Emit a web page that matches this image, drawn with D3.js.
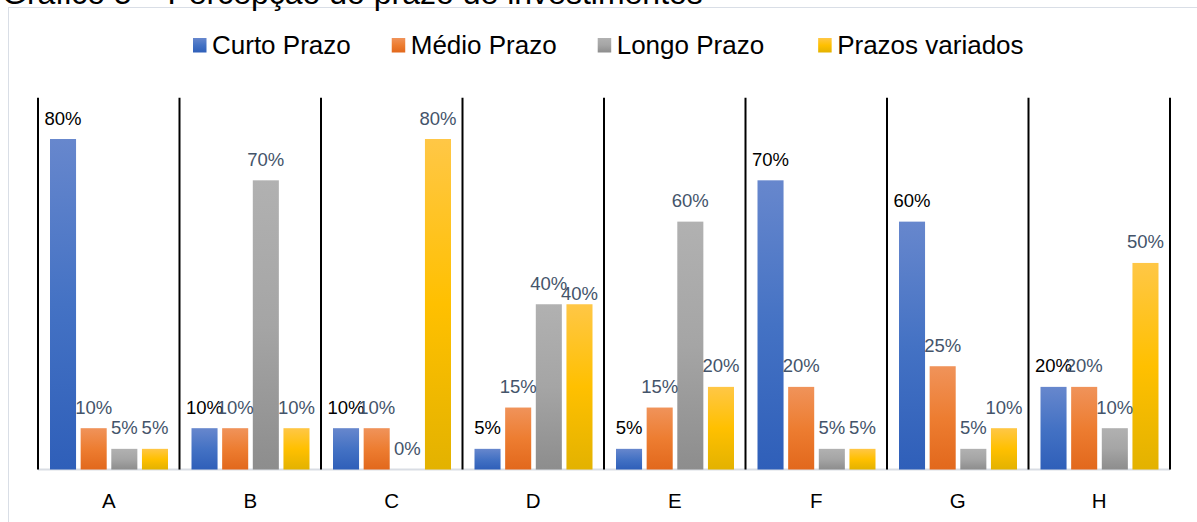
<!DOCTYPE html>
<html>
<head>
<meta charset="utf-8">
<script src="https://cdn.jsdelivr.net/npm/d3@7"></script>
<style>
  html, body { margin: 0; padding: 0; background: #fff; }
  svg { display: block; font-family: "Liberation Sans", Arial, sans-serif; }
</style>
</head>
<body>
<svg id="chart" width="1197" height="522"></svg>
<script>
// Percepção do prazo de investimentos — share of answers per respondent group
const categories = ["A", "B", "C", "D", "E", "F", "G", "H"];
const seriesNames = ["Curto Prazo", "Médio Prazo", "Longo Prazo", "Prazos variados"];
const curtoPrazo    = [0.80, 0.10, 0.10, 0.05, 0.05, 0.70, 0.60, 0.20];
const medioPrazo    = [0.10, 0.10, 0.10, 0.15, 0.15, 0.20, 0.25, 0.20];
const longoPrazo    = [0.05, 0.70, 0.00, 0.40, 0.60, 0.05, 0.05, 0.10];
const prazosVariados = [0.05, 0.10, 0.80, 0.40, 0.20, 0.05, 0.10, 0.50];
const titleText = "Gráfico 5 – Percepção do prazo de investimentos";

const seriesValues = [curtoPrazo, medioPrazo, longoPrazo, prazosVariados];

// gradient stops (top, middle, bottom) per series
const gradients = [
  ["#6787cd", "#4472c4", "#2f5fb9"],
  ["#f0935a", "#ed7d31", "#e2681c"],
  ["#b1b1b1", "#a5a5a5", "#8d8d8d"],
  ["#ffc746", "#ffc000", "#e3b200"]
];
const labelColors = ["#000000", "#44546a", "#44546a", "#44546a"];

const svg = d3.select("#chart");
const plot = { left: 38, right: 1170, top: 97.7, bottom: 469.5 };

const defs = svg.append("defs");
gradients.forEach((g, i) => {
  const lg = defs.append("linearGradient")
    .attr("id", "grad" + i).attr("x1", 0).attr("y1", 0).attr("x2", 0).attr("y2", 1);
  lg.append("stop").attr("offset", "0%").attr("stop-color", g[0]);
  lg.append("stop").attr("offset", "50%").attr("stop-color", g[1]);
  lg.append("stop").attr("offset", "100%").attr("stop-color", g[2]);
});

// chart area frame
svg.append("rect")
  .attr("x", 8.5).attr("y", 7.5).attr("width", 1300).attr("height", 600)
  .attr("fill", "#fff").attr("stroke", "#d9dee6").attr("stroke-width", 1);

// caption, partially above the frame
svg.append("text")
  .attr("x", 2).attr("y", 4)
  .attr("font-size", 32).attr("fill", "#000")
  .text(titleText);

const x0 = d3.scaleBand().domain(categories).range([plot.left, plot.right]).padding(0);
const x1 = d3.scaleBand().domain(seriesNames)
  .range([12, x0.bandwidth() - 11.5]).paddingInner(0.15).paddingOuter(0);
const y = d3.scaleLinear().domain([0, 0.9]).range([plot.bottom, plot.top]);
const pct = d3.format(".0%");

// baseline
svg.append("line")
  .attr("x1", plot.left).attr("x2", plot.right)
  .attr("y1", plot.bottom).attr("y2", plot.bottom)
  .attr("stroke", "#d9dde4").attr("stroke-width", 2);

// vertical gridlines between categories
const gridPositions = categories.map(c => x0(c)).concat([plot.right]);
svg.append("g").selectAll("line").data(gridPositions).join("line")
  .attr("x1", d => d).attr("x2", d => d)
  .attr("y1", y(0.9)).attr("y2", plot.bottom)
  .attr("stroke", "#000").attr("stroke-width", 2);

// bars
const rows = [];
categories.forEach((c, ci) => {
  seriesNames.forEach((s, si) => {
    rows.push({ cat: c, series: s, si: si, value: seriesValues[si][ci] });
  });
});

const groups = svg.append("g").selectAll("g").data(categories).join("g")
  .attr("transform", d => `translate(${x0(d)},0)`);

groups.selectAll("rect")
  .data(c => rows.filter(r => r.cat === c))
  .join("rect")
  .attr("x", d => x1(d.series))
  .attr("width", x1.bandwidth())
  .attr("y", d => y(d.value))
  .attr("height", d => plot.bottom - y(d.value))
  .attr("fill", d => `url(#grad${d.si})`);

// value labels; one label in D is pushed down to clear its neighbour
const labelShift = { "D|Prazos variados": 10 };
groups.selectAll("text.val")
  .data(c => rows.filter(r => r.cat === c))
  .join("text")
  .attr("class", "val")
  .attr("x", d => x1(d.series) + x1.bandwidth() / 2)
  .attr("y", d => y(d.value) - 14.5 + (labelShift[d.cat + "|" + d.series] || 0))
  .attr("text-anchor", "middle")
  .attr("font-size", 18.5)
  .attr("fill", d => labelColors[d.si])
  .text(d => pct(d.value));

// category labels
svg.append("g").selectAll("text").data(categories).join("text")
  .attr("x", d => x0(d) + x0.bandwidth() / 2)
  .attr("y", 507.5)
  .attr("text-anchor", "middle")
  .attr("font-size", 20.5)
  .attr("fill", "#000")
  .text(d => d);

// legend
const legend = svg.append("g");
let lx = 193;
const legendGaps = [41, 41, 54];
seriesNames.forEach((s, i) => {
  const item = legend.append("g").attr("transform", `translate(${lx},0)`);
  item.append("rect")
    .attr("x", 0).attr("y", 38).attr("width", 13.5).attr("height", 14.5)
    .attr("fill", `url(#grad${i})`);
  const t = item.append("text")
    .attr("x", 19).attr("y", 54)
    .attr("font-size", 26).attr("fill", "#000")
    .text(s);
  lx += 19 + t.node().getComputedTextLength() + (legendGaps[i] || 0);
});
</script>
</body>
</html>
